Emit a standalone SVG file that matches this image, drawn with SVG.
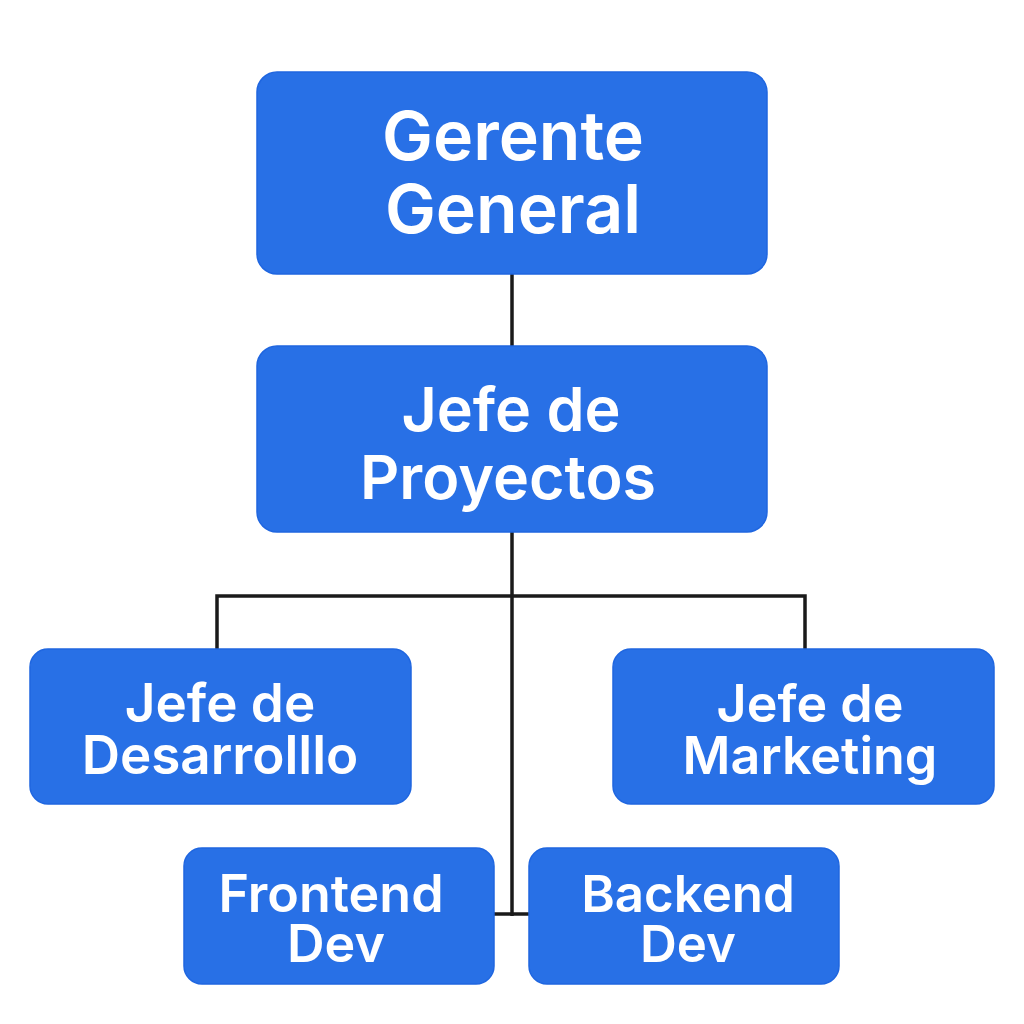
<svg xmlns="http://www.w3.org/2000/svg" width="1024" height="1024" viewBox="0 0 1024 1024">
<style>
.box{fill:#2870E6;stroke:#1F66E0;stroke-width:1.5}
.t{fill:#fff;font-family:Inter,"Noto Sans","Liberation Sans",sans-serif;font-weight:600;text-anchor:middle}
.l{stroke:#1a1a1a;stroke-width:3.5;fill:none}
</style>
<rect width="1024" height="1024" fill="#fff"/>
<g id="connectors">
<line class="l" x1="512" y1="273" x2="512" y2="346"/>
<line class="l" x1="512" y1="532" x2="512" y2="916"/>
<polyline class="l" points="217,649 217,596 805,596 805,649"/>
<line class="l" x1="494" y1="914" x2="530" y2="914"/>
</g>
<g id="gerente">
<rect class="box" x="257" y="72" width="510" height="202" rx="20"/>
<text class="t" font-size="68"><tspan x="513" y="160">Gerente</tspan><tspan x="513" y="233">General</tspan></text>
</g>
<g id="proyectos">
<rect class="box" x="257" y="346" width="510" height="186" rx="20"/>
<text class="t" font-size="61"><tspan x="511" y="431">Jefe de</tspan><tspan x="508" y="499">Proyectos</tspan></text>
</g>
<g id="desarrollo">
<rect class="box" x="30" y="649" width="381" height="155" rx="18"/>
<text class="t" font-size="53"><tspan x="220" y="722">Jefe de</tspan><tspan x="220" y="774">Desarrolllo</tspan></text>
</g>
<g id="marketing">
<rect class="box" x="613" y="649" width="381" height="155" rx="18"/>
<text class="t" font-size="52"><tspan x="810" y="722">Jefe de</tspan><tspan x="810" y="774">Marketing</tspan></text>
</g>
<g id="frontend">
<rect class="box" x="184" y="848" width="310" height="136" rx="18"/>
<text class="t" font-size="52"><tspan x="331" y="912">Frontend</tspan><tspan x="336" y="962">Dev</tspan></text>
</g>
<g id="backend">
<rect class="box" x="529" y="848" width="310" height="136" rx="18"/>
<text class="t" font-size="51"><tspan x="688" y="912">Backend</tspan><tspan x="688" y="962">Dev</tspan></text>
</g>
</svg>
